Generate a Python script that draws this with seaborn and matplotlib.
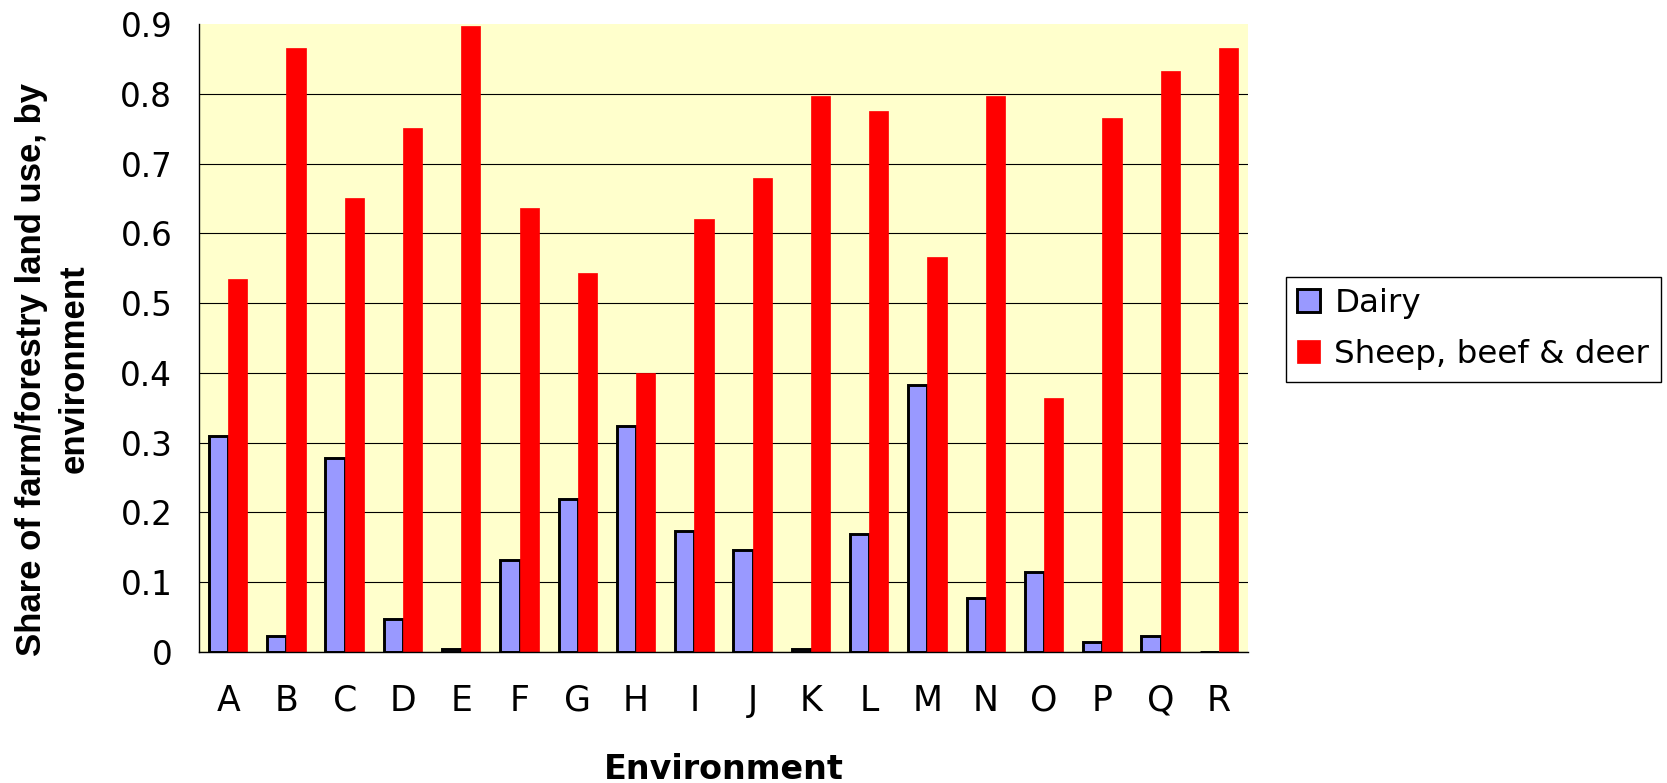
import matplotlib
matplotlib.use("Agg")
import matplotlib.pyplot as plt
import seaborn as sns
import pandas as pd

# Land-use shares by environment
environments = list("ABCDEFGHIJKLMNOPQR")
dairy = [0.309, 0.023, 0.278, 0.047, 0.005, 0.132, 0.219, 0.324, 0.173,
         0.146, 0.005, 0.169, 0.382, 0.077, 0.114, 0.014, 0.023, 0.0]
sheep_beef_deer = [0.535, 0.865, 0.651, 0.751, 0.897, 0.637, 0.543, 0.400, 0.620,
                   0.679, 0.797, 0.775, 0.566, 0.797, 0.364, 0.765, 0.833, 0.865]
series_names = ["Dairy", "Sheep, beef & deer"]
y_ticks = [0, 0.1, 0.2, 0.3, 0.4, 0.5, 0.6, 0.7, 0.8, 0.9]
y_tick_labels = ["0", "0.1", "0.2", "0.3", "0.4", "0.5", "0.6", "0.7", "0.8", "0.9"]

df = pd.DataFrame({
    "Environment": environments * 2,
    "Use": [series_names[0]] * len(environments) + [series_names[1]] * len(environments),
    "Share": dairy + sheep_beef_deer,
})

sns.set_style("white")
plt.rcParams["font.family"] = ["DejaVu Sans"]
plt.rcParams["text.color"] = "black"
plt.rcParams["axes.labelcolor"] = "black"
plt.rcParams["xtick.color"] = "black"
plt.rcParams["ytick.color"] = "black"

W, H = 1667, 783
fig = plt.figure(figsize=(W / 100, H / 100), dpi=100, facecolor="white")
left, right, top, bottom = 199, 1248, 24, 652
ax = fig.add_axes([left / W, 1 - bottom / H, (right - left) / W, (bottom - top) / H])
ax.set_facecolor("#FFFFCC")

palette = {series_names[0]: "#9999FF", series_names[1]: "#FF0000"}
sns.barplot(data=df, x="Environment", y="Share", hue="Use",
            order=environments, hue_order=series_names, palette=palette,
            width=0.66, gap=0, saturation=1, linewidth=0, legend=False, ax=ax)

# bar outlines: dairy boxed in black, red bars flat
for patch in ax.containers[0]:
    patch.set_edgecolor("black")
    patch.set_linewidth(2.1)
for patch in ax.containers[1]:
    patch.set_edgecolor("#FF0000")
    patch.set_linewidth(0.5)

ax.set_xlim(-0.5, len(environments) - 0.5)
ax.set_ylim(0, 0.9)
ax.set_yticks(y_ticks)
ax.set_yticklabels(y_tick_labels)
ax.set_xlabel("")
ax.set_ylabel("")

# horizontal gridlines behind the bars
ax.set_axisbelow(True)
ax.yaxis.grid(True, color="black", linewidth=0.8)
ax.xaxis.grid(False)
ax.get_ygridlines()[-1].set_visible(False)

for side in ("top", "right"):
    ax.spines[side].set_visible(False)
for side in ("left", "bottom"):
    ax.spines[side].set_color("black")
    ax.spines[side].set_linewidth(1.0)

# category labels centred, tick marks on category boundaries
ax.set_xticks([i - 0.5 for i in range(len(environments) + 1)], minor=True)
ax.tick_params(axis="x", which="major", length=0, pad=23, labelsize=25, labelcolor="black")
ax.tick_params(axis="x", which="minor", direction="out", length=7.2, width=1.0, color="black")
ax.tick_params(axis="y", which="major", direction="out", length=7.7, width=1.0,
               color="black", pad=11.5, labelsize=23.5, labelcolor="black")

fig.text((left + right) / 2 / W, 1 - 779.3 / H, "Environment", ha="center", va="baseline",
         fontsize=24, fontweight="bold", color="black", family=["DejaVu Sans"])
fig.text(53 / W, 1 - 369 / H, "Share of farm/forestry land use, by\nenvironment",
         rotation=90, ha="center", va="center", multialignment="center",
         fontsize=25, fontweight="bold", color="black",
         family=["Liberation Sans", "DejaVu Sans"], linespacing=1.35)

leg = ax.legend(handles=[ax.containers[0], ax.containers[1]], labels=series_names,
                loc="upper left", bbox_to_anchor=(1285.7 / W, 1 - 276.7 / H),
                bbox_transform=fig.transFigure, fontsize=23.4,
                handlelength=0.71, handleheight=0.71, handletextpad=0.44,
                borderpad=0.35, labelspacing=0.62, borderaxespad=0,
                frameon=True, fancybox=False, framealpha=1, labelcolor="black")
leg.get_frame().set_edgecolor("black")
leg.get_frame().set_linewidth(1.0)

fig.savefig("out.png", dpi=100, facecolor="white")
